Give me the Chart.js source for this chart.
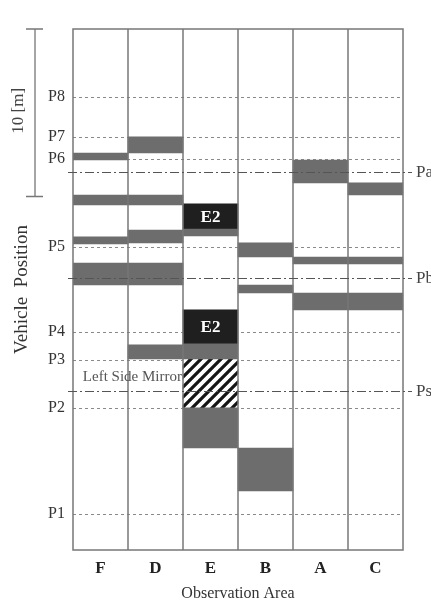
<!DOCTYPE html>
<html>
<head>
<meta charset="utf-8">
<script src="https://cdn.jsdelivr.net/npm/chart.js@4.4.1/dist/chart.umd.min.js"></script>
<style>
  body { margin: 0; background: #fff; }
  canvas { display: block; }
</style>
</head>
<body>
<canvas id="chart" width="431" height="603"></canvas>
<script>
// Observation areas (x axis)
const categories = ['F', 'D', 'E', 'B', 'A', 'C'];

// Vehicle position reference lines [m] and labels
const posLevels = [2.15, 8.48, 11.34, 13.01, 18.09, 23.34, 24.66, 27.04];
const posLabels = ['P1', 'P2', 'P3', 'P4', 'P5', 'P6', 'P7', 'P8'];

// Dash-dot marker lines (right side)
const markLevels = [22.57, 16.24, 9.49];
const markLabels = ['Pa', 'Pb', 'Ps'];

// Observed ranges per area [from, to] in m
const grayF = [[23.28, 23.7], [20.6, 21.19], [18.27, 18.69], [15.82, 17.13]];
const grayD = [[23.7, 24.66], [20.6, 21.19], [18.33, 19.1], [15.82, 17.13], [11.4, 12.24]];
const grayE = [[18.75, 19.16], [11.4, 12.3], [6.09, 8.48]];
const grayB = [[17.49, 18.33], [15.34, 15.82], [3.52, 6.09]];
const grayA = [[21.91, 23.28], [17.07, 17.49], [14.33, 15.34]];
const grayC = [[21.19, 21.91], [17.07, 17.49], [14.33, 15.34]];
const blackE2 = [[19.16, 20.66], [12.3, 14.33]];
const mirrorE = [8.48, 11.4];

const yMax = 31.1;
const scaleLen = 10; // 10 [m] bracket

const serif = '"Liberation Serif", "DejaVu Serif", serif';

function makeHatch() {
    const c = document.createElement('canvas');
    c.width = 10; c.height = 10;
    const g = c.getContext('2d');
    g.fillStyle = '#fff';
    g.fillRect(0, 0, 10, 10);
    g.strokeStyle = '#151515';
    g.lineWidth = 3.2;
    g.beginPath();
    for (const o of [-10, 0, 10]) {
        g.moveTo(o - 1, 11);
        g.lineTo(o + 11, -1);
    }
    g.stroke();
    return g.createPattern(c, 'repeat');
}

const grayCols = [grayF, grayD, grayE, grayB, grayA, grayC];
const datasets = [];
const nLayers = Math.max(...grayCols.map(c => c.length));
for (let i = 0; i < nLayers; i++) {
    datasets.push({
        label: 'gray' + i,
        data: grayCols.map(c => c[i] || null),
        backgroundColor: '#6d6d6d'
    });
}
blackE2.forEach((r, i) => {
    datasets.push({
        label: 'E2',
        data: categories.map(c => c === 'E' ? r : null),
        backgroundColor: '#1f1f1f'
    });
});
datasets.push({
    label: 'mirror',
    data: categories.map(c => c === 'E' ? mirrorE : null),
    backgroundColor: makeHatch()
});
datasets.forEach(d => {
    d.grouped = false;
    d.barPercentage = 1;
    d.categoryPercentage = 1;
    d.borderWidth = 0;
});

// dotted P lines under the bars
const posLines = {
    id: 'posLines',
    beforeDatasetsDraw(chart) {
        const ctx = chart.ctx;
        const a = chart.chartArea;
        const y = chart.scales.y;
        ctx.save();
        ctx.strokeStyle = '#8a8a8a';
        ctx.lineWidth = 1;
        ctx.setLineDash([3, 3]);
        posLevels.forEach(v => {
            const py = Math.round(y.getPixelForValue(v)) + 0.5;
            ctx.beginPath();
            ctx.moveTo(a.left, py);
            ctx.lineTo(a.right, py);
            ctx.stroke();
        });
        ctx.restore();
    }
};

// Extra drawings: frame, dash-dot lines, labels, 10 m bracket
const extras = {
    id: 'extras',
    afterDatasetsDraw(chart) {
        const ctx = chart.ctx;
        const a = chart.chartArea;
        const y = chart.scales.y;
        const x = chart.scales.x;
        ctx.save();

        // column separators and frame
        ctx.strokeStyle = '#777';
        ctx.lineWidth = 1.5;
        for (let i = 1; i < categories.length; i++) {
            const px = (x.getPixelForValue(i - 1) + x.getPixelForValue(i)) / 2;
            ctx.beginPath();
            ctx.moveTo(px, a.top);
            ctx.lineTo(px, a.bottom);
            ctx.stroke();
        }
        ctx.strokeRect(a.left, a.top, a.right - a.left, a.bottom - a.top);

        // dash-dot marker lines
        ctx.strokeStyle = '#555';
        ctx.lineWidth = 1.2;
        ctx.setLineDash([9, 3, 2, 3]);
        ctx.font = '17px ' + serif;
        ctx.fillStyle = '#444';
        ctx.textBaseline = 'middle';
        ctx.textAlign = 'left';
        markLevels.forEach((v, i) => {
            const py = Math.round(y.getPixelForValue(v)) + 0.5;
            ctx.beginPath();
            ctx.moveTo(a.left - 5, py);
            ctx.lineTo(a.right + 9, py);
            ctx.stroke();
            ctx.fillText(markLabels[i], a.right + 13, py);
        });
        ctx.setLineDash([]);

        // E2 labels
        ctx.font = 'bold 17px ' + serif;
        ctx.fillStyle = '#fff';
        ctx.textAlign = 'center';
        chart.data.datasets.forEach((d, di) => {
            if (d.label !== 'E2') return;
            const el = chart.getDatasetMeta(di).data[categories.indexOf('E')];
            ctx.fillText('E2', el.x, (el.y + el.base) / 2 + 1);
        });

        // mirror label
        const xe = (x.getPixelForValue(1) + x.getPixelForValue(2)) / 2;
        const ym = (y.getPixelForValue(mirrorE[0]) + y.getPixelForValue(mirrorE[1])) / 2;
        ctx.font = '15px ' + serif;
        ctx.fillStyle = '#555';
        ctx.textAlign = 'right';
        ctx.fillText('Left Side Mirror', xe - 1, ym - 6);

        // 10 [m] bracket
        const y0 = y.getPixelForValue(yMax);
        const y1 = y.getPixelForValue(yMax - scaleLen);
        ctx.strokeStyle = '#777';
        ctx.lineWidth = 1.3;
        ctx.beginPath();
        ctx.moveTo(35, y0); ctx.lineTo(35, y1);
        ctx.moveTo(26, y0); ctx.lineTo(43, y0);
        ctx.moveTo(26, y1); ctx.lineTo(43, y1);
        ctx.stroke();
        ctx.translate(19, (y0 + y1) / 2 - 2);
        ctx.rotate(-Math.PI / 2);
        ctx.font = '17px ' + serif;
        ctx.fillStyle = '#444';
        ctx.textAlign = 'center';
        ctx.fillText('10 [m]', 0, 0);

        ctx.restore();
    }
};

const ctx = document.getElementById('chart').getContext('2d');
new Chart(ctx, {
    type: 'bar',
    data: { labels: categories, datasets: datasets },
    options: {
        responsive: false,
        animation: false,
        layout: { padding: { left: 0, top: 29, right: 28, bottom: 0 } },
        plugins: {
            legend: { display: false },
            tooltip: { enabled: false }
        },
        scales: {
            x: {
                grid: { display: false, drawTicks: false },
                border: { display: false },
                ticks: {
                    color: '#222',
                    padding: 8,
                    font: { family: serif, size: 17, weight: 'bold' }
                },
                title: {
                    display: true,
                    text: 'Observation Area',
                    color: '#333',
                    padding: { top: 2, bottom: 0 },
                    font: { family: serif, size: 16 }
                },
                afterFit: s => { s.height = 53; }
            },
            y: {
                min: 0,
                max: yMax,
                afterBuildTicks: s => { s.ticks = posLevels.map(v => ({ value: v })); },
                grid: { display: false, drawTicks: false },
                border: { display: false },
                ticks: {
                    autoSkip: false,
                    color: '#333',
                    padding: 8,
                    font: { family: serif, size: 16 },
                    callback: (v, i) => posLabels[i]
                },
                title: {
                    display: true,
                    text: 'Vehicle  Position',
                    color: '#333',
                    padding: { top: 11, bottom: 0 },
                    font: { family: serif, size: 19 }
                },
                afterFit: s => { s.width = 73; }
            }
        }
    },
    plugins: [posLines, extras]
});
</script>
</body>
</html>
